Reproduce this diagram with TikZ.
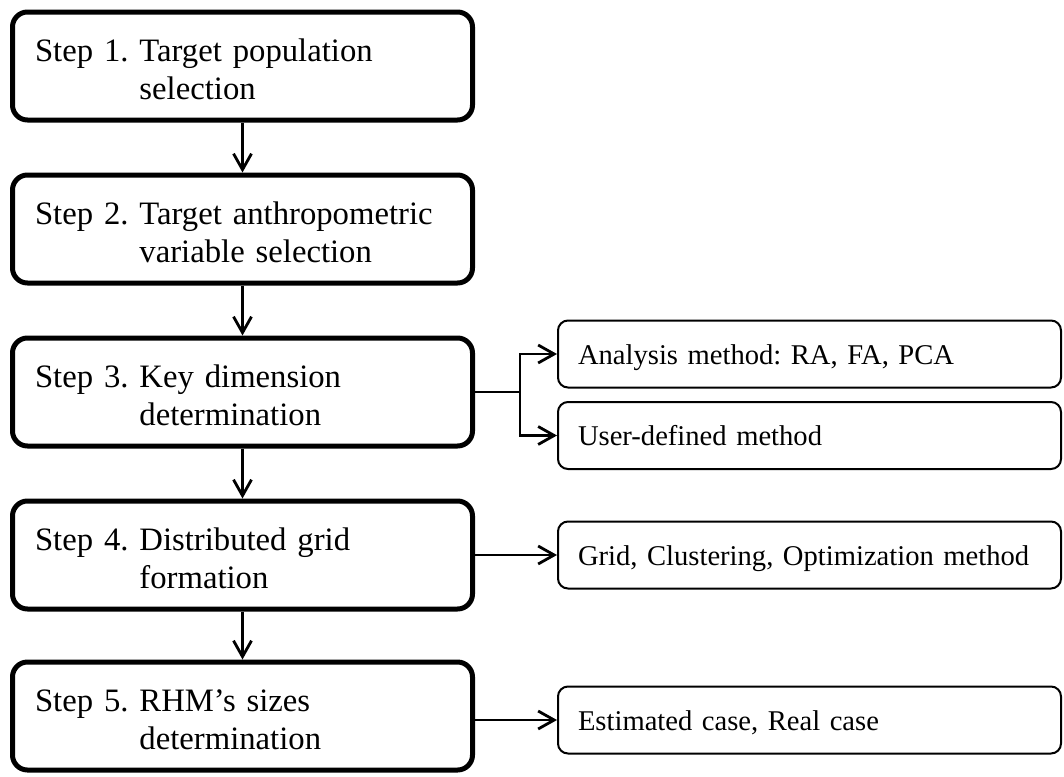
\documentclass[tikz,border=0pt]{standalone}
\usepackage{fontspec}
\setmainfont{Liberation Serif}
\usetikzlibrary{arrows, arrows.meta}
\usetikzlibrary{calc}
\frenchspacing

\tikzset{
  stepbox/.style={draw, rounded corners=7.5pt, line width=2.5pt, minimum width=230pt, minimum height=54pt,
    text width=207.5pt, inner xsep=11.25pt, align=left, text height=10pt, text depth=15pt,
    font=\fontsize{16.35pt}{19pt}\selectfont},
  methodbox/.style={draw, rounded corners=5pt, line width=1pt, minimum width=251.5pt, minimum height=33.5pt,
    text width=231.5pt, inner xsep=10pt, align=left, text height=11pt, text depth=1pt,
    font=\fontsize{14.3pt}{17pt}\selectfont},
  flow/.style={line width=1.4pt, -{Straight Barb[length=8pt, width=9pt]}}
}
\newcommand{\steplines}[3]{Step #1.\ #2\\\hphantom{Step #1.\ }#3}

\begin{document}
\begin{tikzpicture}[x=0.5pt, y=-0.5pt]
      \useasboundingbox (0, 0) rectangle (1064, 776);

      \node[stepbox] (1) at (242.5, 66) {\steplines{1}{Target population}{selection}};
      \node[stepbox] (2) at (242.5, 229) {\steplines{2}{Target anthropometric}{variable selection}};
      \node[stepbox] (3) at (242.5, 392) {\steplines{3}{Key dimension}{determination}};
      \node[stepbox] (4) at (242.5, 555) {\steplines{4}{Distributed grid}{formation}};
      \node[stepbox] (5) at (242.5, 716) {\steplines{5}{RHM's sizes}{determination}};

      \node[methodbox] (a) at (809.5, 354) {Analysis method: RA, FA, PCA};
      \node[methodbox] (b) at (809.5, 435.5) {User-defined method};
      \node[methodbox] (c) at (809.5, 555) {Grid, Clustering, Optimization method};
      \node[methodbox] (d) at (809.5, 720) {Estimated case, Real case};

      \draw[flow] (1) -- (2);
      \draw[flow] (2) -- (3);
      \draw[flow] (3) -- (4);
      \draw[flow] (4) -- (5);

      % step 3 splits in two
      \coordinate (fork) at ($(3.east)+(22.5pt, 0)$);
      \draw[line width=1.4pt] (3.east) -- (fork);
      \draw[flow] (fork) |- (a);
      \draw[flow] (fork) |- (b);

      \draw[flow] (4.east |- c) -- (c);
      \draw[flow] (5.east |- d) -- (d);
    \end{tikzpicture}
\end{document}
